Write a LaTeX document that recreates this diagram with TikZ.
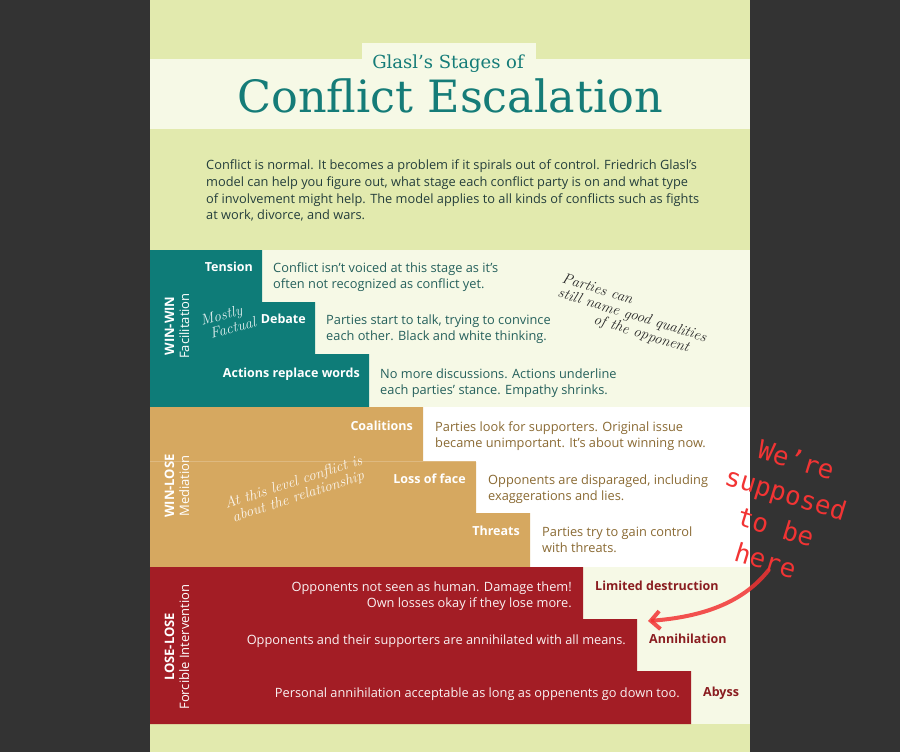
\documentclass[tikz,border=0pt]{standalone}
\usepackage{fontspec}
\setsansfont{Open Sans}
\newfontfamily\titlefont{DejaVu Serif}
\newfontfamily\penfont{DejaVu Sans Mono}
\usetikzlibrary{arrows.meta, positioning}

\definecolor{backdrop}{HTML}{333333}
\definecolor{pagegreen}{HTML}{E2EAAE}
\definecolor{paper}{HTML}{F6F9E6}
\definecolor{winwin}{HTML}{0E7C78}
\definecolor{winlose}{HTML}{D6A860}
\definecolor{loselose}{HTML}{A31D25}
\definecolor{titleteal}{HTML}{157C78}
\definecolor{inktext}{HTML}{243E3C}
\definecolor{tealtext}{HTML}{25605C}
\definecolor{browntext}{HTML}{8A6A33}
\definecolor{redtext}{HTML}{8A1D20}
\definecolor{pen}{HTML}{F23434}

\begin{document}
\begin{tikzpicture}[x=1pt, y=-1pt,
    stagelabel/.style={font=\sffamily\bfseries\fontsize{12.5}{14}\selectfont, inner sep=0pt},
    stagetext/.style={font=\sffamily\fontsize{12.8}{16}\selectfont, align=left, inner sep=0pt},
    phase/.style={rotate=90, align=center, text=white, inner sep=0pt,
        font=\sffamily\fontsize{13}{15}\selectfont},
    scribble/.style={font=\rmfamily\itshape\fontsize{15}{15}\selectfont, align=left, inner sep=0pt}]
    \useasboundingbox (0,0) rectangle (900,752);
    \fill[backdrop] (0,0) rectangle (900,752);

    % Page and title band
    \fill[pagegreen] (150,0) rectangle (750,752);
    \fill[paper] (150,59) rectangle (750,129);
    \fill[paper] (362,43) rectangle (536,59);
    \node[font=\titlefont\fontsize{18}{18}\selectfont, text=titleteal, anchor=base] (subtitle) at (448,69) {Glasl’s Stages of};
    \node[font=\titlefont\fontsize{44.5}{45}\selectfont, text=titleteal, anchor=base] (title) at (450,113) {Conflict Escalation};

    % Intro
    \node[font=\sffamily\fontsize{12.8}{16.6}\selectfont, text=inktext, align=left, inner sep=0pt, anchor=north west] (intro) at (206,160)
        {Conflict is normal. It becomes a problem if it spirals out of control. Friedrich Glasl’s\\
         model can help you figure out, what stage each conflict party is on and what type\\
         of involvement might help. The model applies to all kinds of conflicts such as fights\\
         at work, divorce, and wars.};

    % WIN-WIN
    \fill[paper] (150,250) rectangle (750,407);
    \fill[winwin] (150,250) -- (262,250) -- (262,302) -- (315,302) -- (315,354)
        -- (369,354) -- (369,407) -- (150,407) -- cycle;
    \foreach \s/\y/\lab/\txt [count=\i] in {
        262/267/Tension/{Conflict isn’t voiced at this stage as it’s\\often not recognized as conflict yet.},
        315/319/Debate/{Parties start to talk, trying to convince\\each other. Black and white thinking.},
        369/373/Actions replace words/{No more discussions. Actions underline\\each parties’ stance. Empathy shrinks.}} {
        \node[stagelabel, text=white, anchor=base east] (win\i) at (\s-9,\y+4.5) {\lab};
        \node[stagetext, text=tealtext, anchor=north west] (wintext\i) at (\s+11,\y-4.8) {\txt};
    }
    \node[phase] (winwin) at (177,326) {\textbf{WIN-WIN}\\Facilitation};
    \node[scribble, text=white!88!winwin, rotate=15] (factual) at (228,321) {Mostly\\\hspace*{0.4em}Factual};
    \node[scribble, text=black!85, rotate=-17] (qualities) at (632,316)
        {Parties can\\still name good qualities\\\hspace*{2.8em}of the opponent};

    % WIN-LOSE
    \fill[white] (150,407) rectangle (750,567);
    \fill[winlose] (150,407) -- (423,407) -- (423,462) -- (476,462) -- (476,513)
        -- (530,513) -- (530,567) -- (150,567) -- cycle;
    \draw[winlose!80!white, line width=0.6pt] (150,461.5) -- (476,461.5);
    \foreach \s/\y/\lab/\txt [count=\i] in {
        423/426/Coalitions/{Parties look for supporters. Original issue\\became unimportant. It’s about winning now.},
        476/479/Loss of face/{Opponents are disparaged, including\\exaggerations and lies.},
        530/531/Threats/{Parties try to gain control\\with threats.}} {
        \node[stagelabel, text=white, anchor=base east] (mid\i) at (\s-10,\y+4.5) {\lab};
        \node[stagetext, text=browntext, anchor=north west] (midtext\i) at (\s+12,\y-4.8) {\txt};
    }
    \node[phase] (winlose) at (177,486) {\textbf{WIN-LOSE}\\Mediation};
    \node[scribble, text=white!90!winlose, align=center, rotate=18] (relation) at (296,490)
        {At this level conflict is\\about the relationship};

    % LOSE-LOSE
    \fill[paper] (150,567) rectangle (750,724);
    \fill[loselose] (150,567) -- (583,567) -- (583,619) -- (637,619) -- (637,671)
        -- (691,671) -- (691,724) -- (150,724) -- cycle;
    \foreach \s/\y/\lab/\txt [count=\i] in {
        583/586/Limited destruction/{Opponents not seen as human. Damage them!\\Own losses okay if they lose more.},
        637/639/Annihilation/{Opponents and their supporters are annihilated with all means.},
        691/692/Abyss/{Personal annihilation acceptable as long as oppenents go down too.}} {
        \node[stagelabel, text=redtext, anchor=base west] (lose\i) at (\s+12,\y+4.5) {\lab};
        \node[stagetext, text=white!94!loselose, align=right, anchor=north east] (losetext\i) at (\s-11,\y-4.8) {\txt};
    }
    \node[phase] (loselose) at (177,647) {\textbf{LOSE-LOSE}\\Forcible Intervention};

    % Note
    \node[font=\penfont\fontsize{26}{35}\selectfont, text=pen, align=center, inner sep=0pt, rotate=-17] (note) at (781,510)
        {We’re\\supposed\\to be\\here};
    \coordinate (target) at (648,621);
    \draw[pen, opacity=0.85, line width=4pt, line cap=round, -{Straight Barb[length=9pt, width=18pt]}]
        ([xshift=6pt]note.south) .. controls (742,604) and (700,617) .. (target);
\end{tikzpicture}
\end{document}
